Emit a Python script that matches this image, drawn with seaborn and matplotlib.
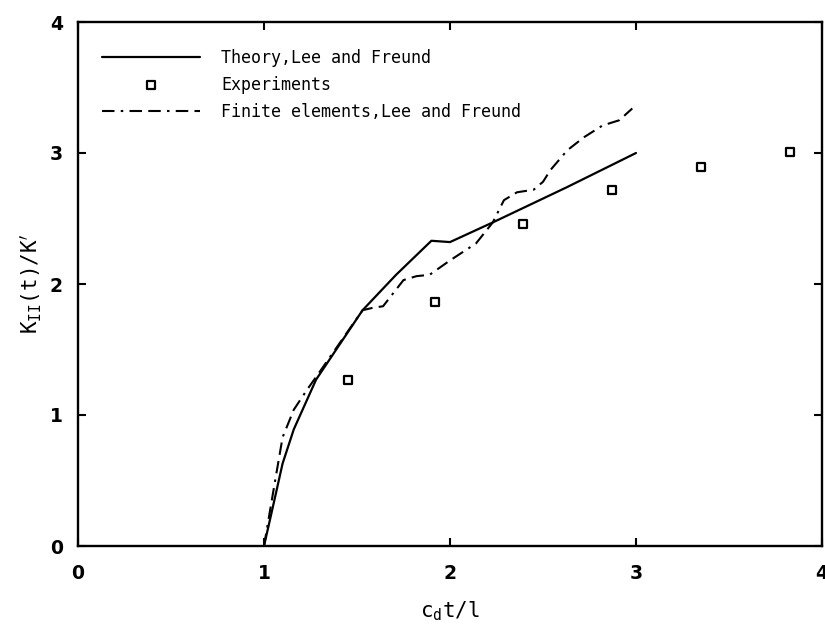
import numpy as np
import pandas as pd
import matplotlib
matplotlib.use("Agg")
import matplotlib.pyplot as plt
import seaborn as sns

# Theory, Lee and Freund (solid)
theory_x = [1.00, 1.04, 1.10, 1.16, 1.28, 1.53, 1.71, 1.90, 2.00, 2.23, 2.63, 3.00]
theory_y = [0.00, 0.25, 0.63, 0.89, 1.27, 1.80, 2.07, 2.33, 2.32, 2.47, 2.74, 3.00]

# Finite elements, Lee and Freund (dash-dot)
fe_x = [1.00, 1.03, 1.06, 1.10, 1.16, 1.23, 1.28, 1.53, 1.59, 1.64, 1.75, 1.82, 1.89,
        2.00, 2.14, 2.23, 2.29, 2.36, 2.45, 2.50, 2.54, 2.63, 2.72, 2.82, 2.91, 2.98]
fe_y = [0.00, 0.25, 0.50, 0.83, 1.04, 1.19, 1.29, 1.80, 1.82, 1.83, 2.03, 2.06, 2.07,
        2.18, 2.31, 2.47, 2.64, 2.70, 2.72, 2.78, 2.87, 3.02, 3.12, 3.21, 3.25, 3.34]

# Experiments (squares)
exp_x = [1.45, 1.92, 2.39, 2.87, 3.35, 3.83]
exp_y = [1.27, 1.86, 2.46, 2.72, 2.89, 3.01]

labels = ["Theory,Lee and Freund", "Experiments", "Finite elements,Lee and Freund"]
x_ticks = [0, 1, 2, 3, 4]
y_ticks = [0, 1, 2, 3, 4]

sns.set_style("ticks")
plt.rcParams['font.family'] = ['DejaVu Sans', 'DejaVu Sans Mono']
plt.rcParams['text.color'] = 'black'
plt.rcParams['axes.labelcolor'] = 'black'
plt.rcParams['xtick.color'] = 'black'
plt.rcParams['ytick.color'] = 'black'

fig = plt.figure(figsize=(8.25, 6.28), dpi=100)
ax = fig.add_axes([78/825, 1-546/628, 744/825, 524/628])

theory = pd.DataFrame({"x": theory_x, "y": theory_y})
fe = pd.DataFrame({"x": fe_x, "y": fe_y})
exp = pd.DataFrame({"x": exp_x, "y": exp_y})

sns.lineplot(data=theory, x="x", y="y", ax=ax, color="black", lw=1.6,
             sort=False, estimator=None, label=labels[0])
sns.scatterplot(data=exp, x="x", y="y", ax=ax, marker="s", s=40,
                facecolor="white", edgecolor="black", linewidth=1.6,
                label=labels[1], zorder=3)
sns.lineplot(data=fe, x="x", y="y", ax=ax, color="black", lw=1.5,
             sort=False, estimator=None, label=labels[2])
ax.lines[-1].set_dashes((6, 3, 1.2, 3, 6, 3))

ax.set_xlim(0, 4)
ax.set_ylim(0, 4)
ax.set_xticks(x_ticks)
ax.set_yticks(y_ticks)
ax.set_xticklabels([str(t) for t in x_ticks])
ax.set_yticklabels([str(t) for t in y_ticks])
ax.tick_params(direction="in", top=True, right=True, length=6, width=1.5,
               labelsize=13.5)
ax.tick_params(axis="x", pad=13)
ax.tick_params(axis="y", pad=11)
for lab in ax.get_xticklabels() + ax.get_yticklabels():
    lab.set_fontweight("semibold")
for sp in ax.spines.values():
    sp.set_linewidth(1.7)
    sp.set_color("black")

mono = "DejaVu Sans Mono"
ax.set_xlabel(r"c$_\mathregular{d}$t/l", fontsize=15, family=mono, labelpad=12)
ax.set_ylabel(r"K$_\mathregular{II}$(t)/K$'$", fontsize=15, family=mono, labelpad=4)

leg = ax.legend(loc="upper left", bbox_to_anchor=(0.012, 0.978), frameon=False,
                prop={"family": mono, "size": 12}, handlelength=5.9,
                handletextpad=1.25, labelspacing=0.55)

fig.savefig("out.png", dpi=100)
